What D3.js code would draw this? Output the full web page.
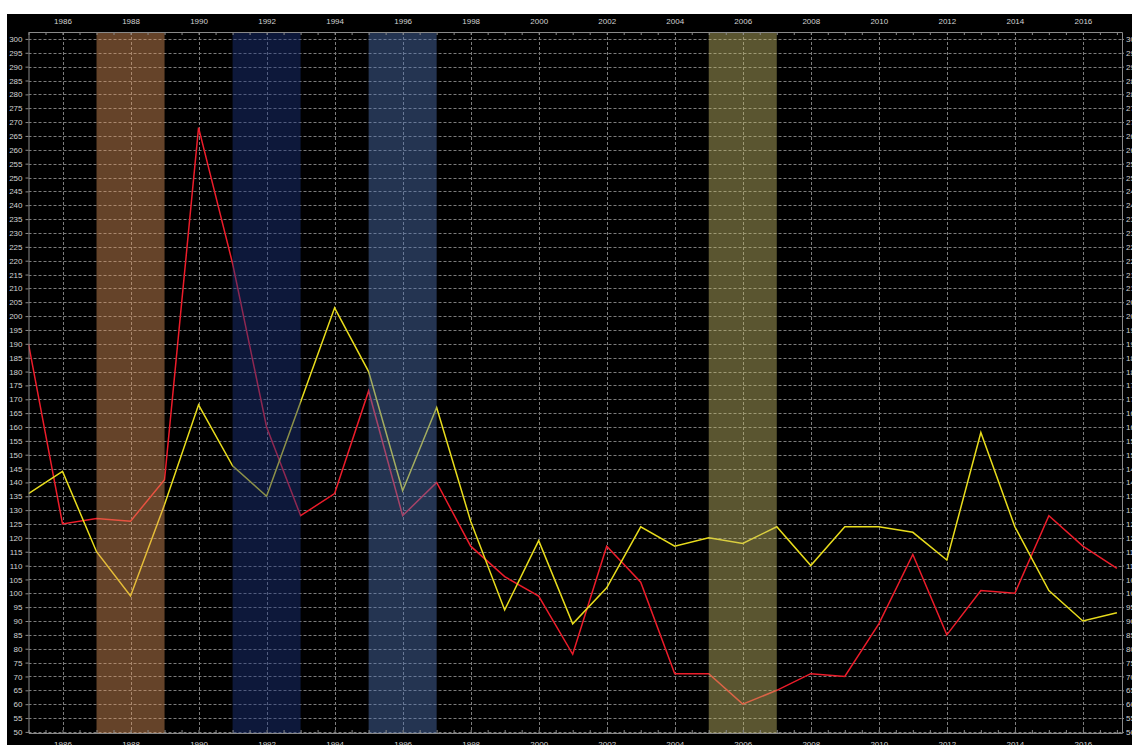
<!DOCTYPE html>
<html><head><meta charset="utf-8">
<script src="https://cdn.jsdelivr.net/npm/d3@7"></script>
<style>html,body{margin:0;padding:0;background:#fff;overflow:hidden}</style>
</head><body><svg id="c" width="1132" height="745"></svg>
<script>
const years = [1985,1986,1987,1988,1989,1990,1991,1992,1993,1994,1995,1996,1997,1998,1999,2000,2001,2002,2003,2004,2005,2006,2007,2008,2009,2010,2011,2012,2013,2014,2015,2016,2017];
const seriesRed = [190,125,127,126,141,268,219,160,128,136,173,128,140,117,106,99,78,117,104,71,71,60,65,71,70,89,114,85,101,100,128,117,109];
const seriesYellow = [136,144,115,99,132,168,146,135,169,203,180,137,167,126,94,119,89,102,124,117,120,118,124,110,124,124,122,112,158,124,101,90,93];
const bandStarts = [1987,1991,1995,2005];
const bandEnds = [1989,1993,1997,2007];
const bandColors = ["#e0955a","#1c3680","#5074b4","#c8bd6b"];
const xTickYears = [1986,1988,1990,1992,1994,1996,1998,2000,2002,2004,2006,2008,2010,2012,2014,2016];
const yTickValues = d3.range(50, 301, 5);

const svg = d3.select("#c");
const W = 1132, H = 745;
const x = d3.scaleLinear().domain([1985, 2017.15]).range([28.5, 1122]);
const y = d3.scaleLinear().domain([49.6, 302.5]).range([733, 32]);
const [x0, x1] = x.range();
const [yB, yT] = y.range();

svg.append("rect").attr("x",0).attr("y",0).attr("width",W).attr("height",H).attr("fill","#fff");
svg.append("rect").attr("x",7).attr("y",14).attr("width",W-7).attr("height",H-14).attr("fill","#000");

svg.append("defs").append("clipPath").attr("id","plot")
  .append("rect").attr("x",x0).attr("y",yT).attr("width",x1-x0).attr("height",yB-yT);

const plot = svg.append("g").attr("clip-path","url(#plot)");

// grid
const grid = plot.append("g").attr("stroke","#7c7c7c").attr("stroke-width",1).attr("stroke-dasharray","3,2");
grid.selectAll("line.h").data(yTickValues).join("line").attr("class","h")
  .attr("x1",x0).attr("x2",x1)
  .attr("y1",d=>Math.round(y(d))+0.5).attr("y2",d=>Math.round(y(d))+0.5);
grid.selectAll("line.v").data(xTickYears).join("line").attr("class","v")
  .attr("y1",yT).attr("y2",yB)
  .attr("x1",d=>Math.round(x(d))+0.5).attr("x2",d=>Math.round(x(d))+0.5);

// lines
const line = d3.line().x((d,i)=>x(years[i])).y(d=>y(d));
plot.append("path").datum(seriesRed).attr("fill","none").attr("stroke","#ec1c2a").attr("stroke-width",1.5).attr("d",line);
plot.append("path").datum(seriesYellow).attr("fill","none").attr("stroke","#e8dc1c").attr("stroke-width",1.5).attr("d",line);

// bands (overlay)
plot.selectAll("rect.band").data(bandStarts).join("rect").attr("class","band")
  .attr("x",d=>x(d)).attr("width",(d,i)=>x(bandEnds[i])-x(d))
  .attr("y",yT).attr("height",yB-yT)
  .attr("fill",(d,i)=>bandColors[i]).attr("fill-opacity",0.45);

const font = "'Liberation Sans', Arial, sans-serif";
function styleAxis(g){
  g.selectAll(".domain").attr("stroke","#8a8a8a");
  g.selectAll(".tick line").attr("stroke","#8a8a8a");
  g.selectAll("text").attr("fill","#d2d2d2").style("font-family",font).style("font-size","8px");
}
const halfYears = d3.range(1985, 2017.6, 0.5);

// top axis
const topG = svg.append("g").attr("transform",`translate(0,${yT})`)
  .call(d3.axisTop(x).tickValues(xTickYears).tickFormat(d3.format("d")).tickSize(0).tickPadding(8));
topG.call(styleAxis);
svg.append("g").attr("transform",`translate(0,${yT})`)
  .call(d3.axisTop(x).tickValues(halfYears).tickFormat("").tickSizeInner(-3).tickSizeOuter(0))
  .call(g=>{g.select(".domain").remove(); g.selectAll("line").attr("stroke","#8a8a8a");});

// bottom axis
const botG = svg.append("g").attr("transform",`translate(0,${yB})`)
  .call(d3.axisBottom(x).tickValues(xTickYears).tickFormat(d3.format("d")).tickSize(0).tickPadding(8));
botG.call(styleAxis);
svg.append("g").attr("transform",`translate(0,${yB})`)
  .call(d3.axisBottom(x).tickValues(halfYears).tickFormat("").tickSizeInner(-3).tickSizeOuter(0))
  .call(g=>{g.select(".domain").remove(); g.selectAll("line").attr("stroke","#8a8a8a");});

// left axis
svg.append("g").attr("transform",`translate(${x0},0)`)
  .call(d3.axisLeft(y).tickValues(yTickValues).tickFormat(d3.format("d")).tickSizeInner(3).tickSizeOuter(0).tickPadding(3))
  .call(styleAxis);

// right axis
svg.append("g").attr("transform",`translate(${x1},0)`)
  .call(d3.axisRight(y).tickValues(yTickValues).tickFormat(d3.format("d")).tickSizeInner(2).tickSizeOuter(0).tickPadding(2))
  .call(styleAxis);
</script></body></html>
